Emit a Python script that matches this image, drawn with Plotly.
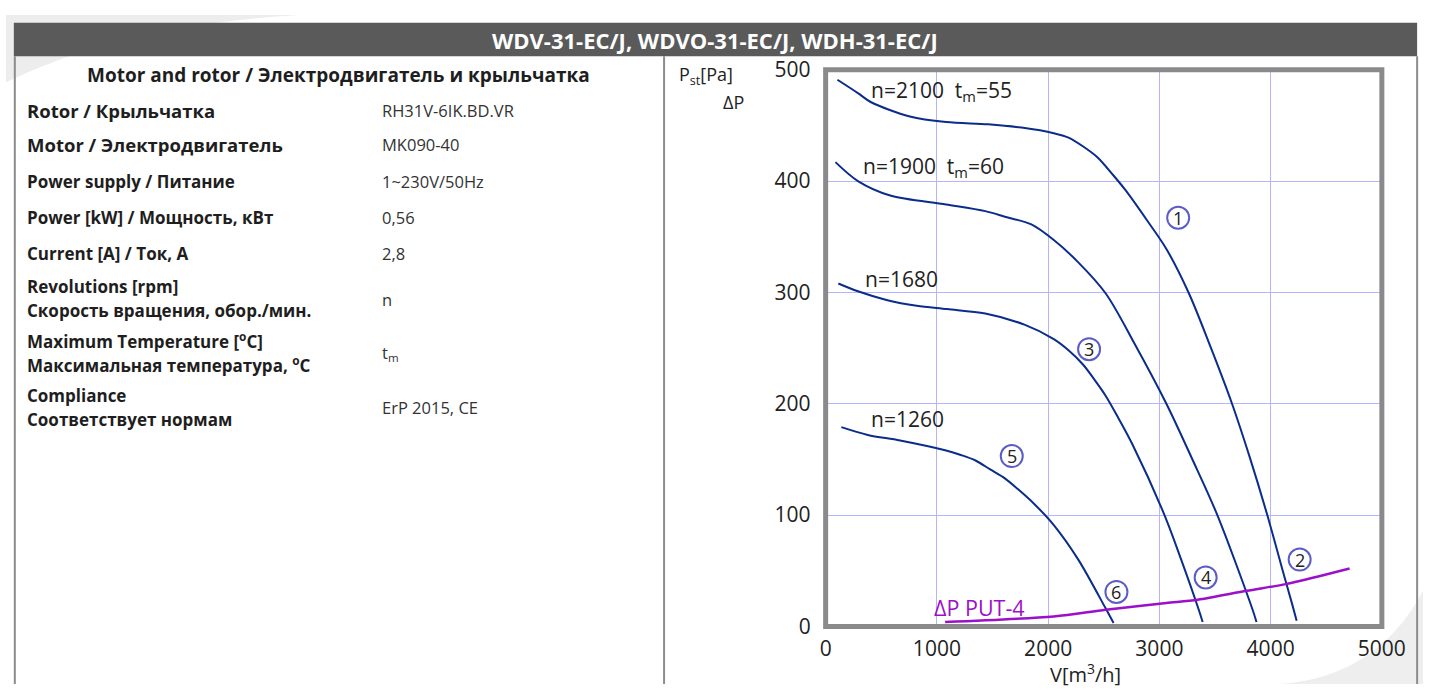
import plotly.graph_objects as go

W, H = 1447, 697

# ---------------- data ----------------
flow_2100 = [106, 290, 405, 757, 1083, 1461, 1761, 2051, 2183, 2315, 2447, 2579, 2694, 2887, 3063, 3266, 3460, 3653, 3812, 3970, 4120, 4199, 4234]
pst_2100 = [491, 479, 471, 458, 453, 451, 448, 443, 439, 431, 421, 406, 392, 365, 339, 299, 251, 200, 152, 100, 46, 18, 5]

flow_1900 = [88, 290, 581, 1083, 1435, 1611, 1849, 2051, 2271, 2518, 2782, 3063, 3292, 3521, 3838, 3873]
pst_1900 = [417, 400, 387, 379, 373, 368, 361, 347, 327, 299, 253, 200, 151, 100, 15, 4]

flow_1680 = [114, 290, 555, 819, 1092, 1435, 1787, 2051, 2183, 2315, 2421, 2518, 2632, 2755, 3046, 3196, 3354, 3389]
pst_1680 = [308, 301, 293, 288, 285, 281, 271, 258, 248, 235, 221, 207, 187, 164, 100, 60, 15, 4]

flow_1260 = [141, 379, 669, 1083, 1215, 1347, 1479, 1611, 1743, 1875, 2051, 2271, 2518, 2588]
pst_1260 = [179, 172, 167, 158, 154, 149, 141, 133, 122, 110, 91, 60, 16, 3]

flow_put4 = [1074, 2051, 2518, 3063, 3345, 3785, 4137, 4516, 4710]
dp_put4 = [4, 9, 15, 21, 24, 32, 38, 47, 52]

circle_ids = ["1", "2", "3", "4", "5", "6"]
circle_x = [3169, 4261, 2368, 3416, 1673, 2614]
circle_y = [367, 60, 249, 44, 153, 31]

NB = "\u00a0"
curve_labels = ["n=2100" + NB * 2 + "t<sub>m</sub>=55", "n=1900" + NB * 2 + "t<sub>m</sub>=60", "n=1680", "n=1260"]
curve_label_x = [390, 320, 337, 390]
curve_label_y = [481, 413, 312, 186]

x_ticks = [0, 1000, 2000, 3000, 4000, 5000]
y_ticks = [0, 100, 200, 300, 400, 500]

title_text = "WDV-31-EC/J, WDVO-31-EC/J, WDH-31-EC/J"
table_title = "Motor and rotor / Электродвигатель и крыльчатка"
row_labels = [
    ["Rotor / Крыльчатка"],
    ["Motor / Электродвигатель"],
    ["Power supply / Питание"],
    ["Power [kW] / Мощность, кВт"],
    ["Current [A] / Ток, A"],
    ["Revolutions [rpm]", "Скорость вращения, обор./мин."],
    ["Maximum Temperature [<sup>o</sup>C]", "Максимальная температура, <sup>o</sup>C"],
    ["Compliance", "Соответствует нормам"],
]
row_values = ["RH31V-6IK.BD.VR", "MK090-40", "1~230V/50Hz", "0,56", "2,8", "n", "t<sub>m</sub>", "ErP 2015, CE"]
row_y = [99, 135, 173, 211, 249, 296, 352, 409]
row_sizes = [18.5, 18.5, 17, 17, 17, 17, 17, 17]

# ---------------- layout helpers ----------------
FONT = "Open Sans"
BLUE = "#0a2d8c"
PURPLE = "#9b10c8"


def fx(px):
    return px / W


def fy(py):
    return 1 - py / H


def ann(text, px, py, size, color="#1e1e1e", bold=False, xanchor="left", family=FONT):
    return dict(text=("<b>%s</b>" % text) if bold else text, x=fx(px), y=fy(py),
                xref="paper", yref="paper", showarrow=False, xanchor=xanchor,
                yanchor="middle", font=dict(size=size, color=color, family=family))


fig = go.Figure()

for xs, ys in [(flow_2100, pst_2100), (flow_1900, pst_1900), (flow_1680, pst_1680), (flow_1260, pst_1260)]:
    fig.add_trace(go.Scatter(x=xs, y=ys, mode="lines", line=dict(color=BLUE, width=2, shape="spline", smoothing=0.9),
                             hoverinfo="skip", showlegend=False))
fig.add_trace(go.Scatter(x=flow_put4, y=dp_put4, mode="lines", line=dict(color=PURPLE, width=2.5, shape="spline", smoothing=0.8),
                         hoverinfo="skip", showlegend=False))

annotations = []
shapes = []

# decorative background swooshes
shapes.append(dict(type="path", xref="paper", yref="paper", layer="below",
                   path="M 0 1 L %f 1 Q %f %f 0 %f Z" % (fx(300), fx(120), fy(10), fy(70)),
                   fillcolor="#ededed", line=dict(width=0)))
shapes.append(dict(type="path", xref="paper", yref="paper", layer="below",
                   path="M 1 0 L %f 0 Q %f %f 1 %f Z" % (fx(1300), fx(1400), fy(690), fy(600)),
                   fillcolor="#eeeeee", line=dict(width=0)))

# header bar
shapes.append(dict(type="rect", xref="paper", yref="paper", x0=fx(8), x1=fx(1441), y0=fy(43), y1=fy(8),
                   fillcolor="#5a5a5a", line=dict(width=0), layer="below"))
annotations.append(ann(title_text, 724, 26, 22, color="white", bold=True, xanchor="center"))

# table borders
for xline in [9, 672, 1441]:
    shapes.append(dict(type="line", xref="paper", yref="paper", x0=fx(xline), x1=fx(xline), y0=0, y1=fy(43),
                       line=dict(color="#8c8c8c", width=2)))

# table text
annotations.append(ann(table_title, 340, 62, 19, bold=True, xanchor="center"))
for labels, val, yc, sz in zip(row_labels, row_values, row_y, row_sizes):
    if len(labels) == 1:
        annotations.append(ann(labels[0], 19, yc, sz, bold=True))
    else:
        annotations.append(ann(labels[0], 19, yc - 13, sz, bold=True))
        annotations.append(ann(labels[1], 19, yc + 12, sz, bold=True))
    annotations.append(ann(val, 382, yc, 16.5, color="#333333"))

# axis titles
annotations.append(ann("P<sub>st</sub>[Pa]", 685, 63, 18, color="#222222"))
annotations.append(ann("ΔP", 756, 91, 18, color="#222222", xanchor="right"))
annotations.append(ann("V[m<sup>3</sup>/h]", 1102, 686, 20, color="#222222", xanchor="center"))

# curve labels
for t, cx, cy in zip(curve_labels, curve_label_x, curve_label_y):
    annotations.append(dict(text=t, x=cx, y=cy, xref="x", yref="y", showarrow=False, xanchor="left",
                            yanchor="middle", font=dict(size=21, color="#222222", family=FONT)))
annotations.append(dict(text="ΔP PUT-4", x=960, y=17, xref="x", yref="y", showarrow=False, xanchor="left",
                        yanchor="middle", font=dict(size=21.5, color=PURPLE, family=FONT)))

# circled numbers
for cid, cx, cy in zip(circle_ids, circle_x, circle_y):
    shapes.append(dict(type="circle", xref="x", yref="y", xsizemode="pixel", ysizemode="pixel",
                       xanchor=cx, yanchor=cy, x0=-11, x1=11, y0=-11, y1=11,
                       line=dict(color="#5c5cc8", width=2), fillcolor="rgba(0,0,0,0)", layer="above"))
    annotations.append(dict(text=cid, x=cx, y=cy, xref="x", yref="y", showarrow=False, xanchor="center",
                            yanchor="middle", font=dict(size=18, color="#222222", family=FONT)))

# plot frame
shapes.append(dict(type="rect", xref="x domain", yref="y domain", x0=0, x1=1, y0=0, y1=1,
                   line=dict(color="#8a8a8a", width=5), layer="above"))

fig.update_layout(
    width=W, height=H, autosize=False,
    margin=dict(l=0, r=0, t=0, b=0, pad=0),
    paper_bgcolor="white", plot_bgcolor="white",
    showlegend=False,
    xaxis=dict(domain=[fx(837), fx(1405)], range=[0, 5000], tickvals=x_ticks,
               showgrid=True, gridcolor="#b4b4ff", gridwidth=1, zeroline=False, showline=False,
               ticks="", ticklabelstandoff=8, tickfont=dict(size=21, color="#222222", family=FONT),
               fixedrange=True),
    yaxis=dict(domain=[fy(637), fy(57)], range=[0, 500], tickvals=y_ticks,
               showgrid=True, gridcolor="#b4b4ff", gridwidth=1, zeroline=False, showline=False,
               ticks="", ticklabelstandoff=14, tickfont=dict(size=21, color="#222222", family=FONT),
               fixedrange=True),
    annotations=annotations,
    shapes=shapes,
)

fig.write_html("out.html", config={"displayModeBar": False},
               post_script="document.body.style.margin='0';document.body.style.overflow='hidden';")
